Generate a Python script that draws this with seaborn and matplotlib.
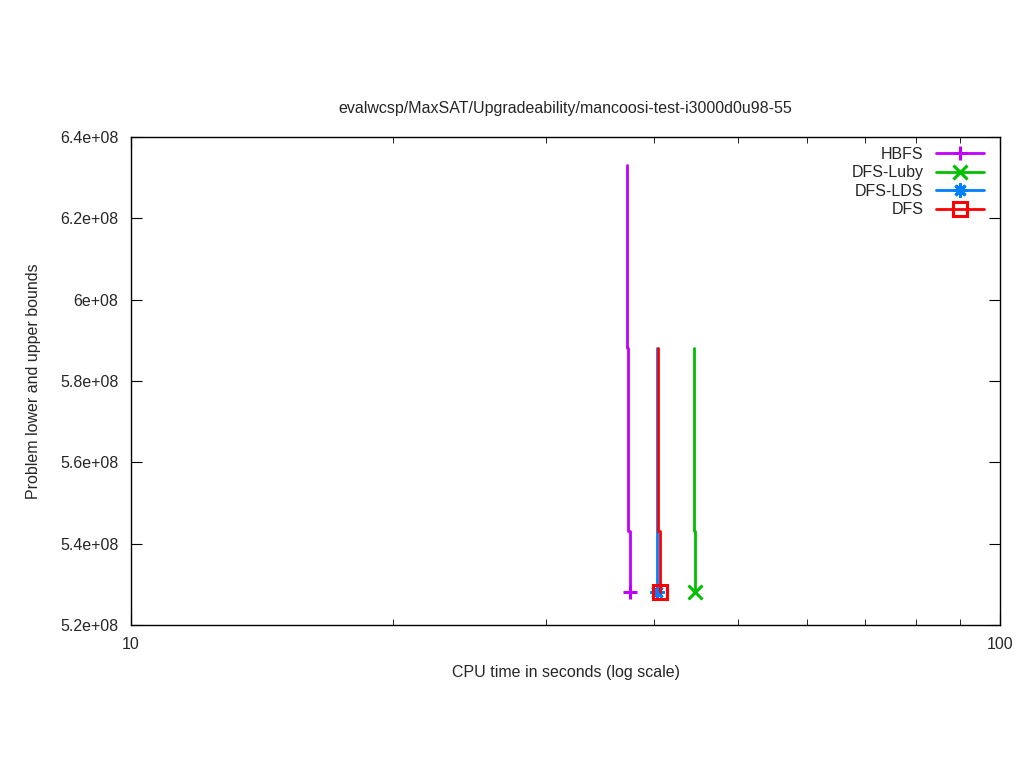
import pandas as pd
import numpy as np
import matplotlib.pyplot as plt
import seaborn as sns
from matplotlib.lines import Line2D
from matplotlib.ticker import FuncFormatter, LogLocator, NullFormatter

sns.set_style("white")
plt.rcParams['font.family'] = ['Liberation Sans', 'DejaVu Sans']

# solver traces: time (s) and bound
hbfs_t = [37.25, 37.25, 37.35, 37.5]
hbfs_y = [6.33e8, 5.88e8, 5.43e8, 5.28e8]
luby_t = [44.4, 44.4, 44.55]
luby_y = [5.88e8, 5.43e8, 5.28e8]
lds_t = [40.3, 40.3]
lds_y = [5.88e8, 5.28e8]
dfs_t = [40.45, 40.45, 40.6]
dfs_y = [5.88e8, 5.43e8, 5.28e8]

names = ["HBFS", "DFS-Luby", "DFS-LDS", "DFS"]
colors = ["#c000ff", "#00c000", "#0080ff", "#ff0000"]
markers = ["+", "x", (8, 2, 0), "s"]

series = [(hbfs_t, hbfs_y), (luby_t, luby_y), (lds_t, lds_y), (dfs_t, dfs_y)]
frames = []
for name, (t, y) in zip(names, series):
    frames.append(pd.DataFrame({"time": t, "bound": y, "solver": name}))
df = pd.concat(frames, ignore_index=True)

fig = plt.figure(figsize=(10.24, 7.68), dpi=100)
ax = fig.add_axes([0.128, 0.1862, 0.8486, 0.6354])

for name, col, mk in zip(names, colors, markers):
    d = df[df["solver"] == name]
    sns.lineplot(data=d, x="time", y="bound", ax=ax, color=col, lw=2,
                 drawstyle="steps-post", sort=False, estimator=None, legend=False)
    last = d.iloc[[-1]]
    mfc = "none" if mk == "s" else col
    ax.plot(last["time"], last["bound"], marker=mk, color=col, ms=10, mew=2.2,
            mfc=mfc, ls="none")

ax.set_xscale("log")
ax.set_xlim(10, 100)
ax.set_ylim(5.2e8, 6.4e8)
ax.set_yticks(np.arange(5.2e8, 6.41e8, 0.2e8))

def sci(v, pos):
    s = "%.1e" % v
    m, e = s.split("e")
    m = m.rstrip("0").rstrip(".")
    return "%se+%02d" % (m, int(e))

ax.yaxis.set_major_formatter(FuncFormatter(sci))
ax.xaxis.set_major_locator(LogLocator(base=10))
ax.xaxis.set_major_formatter(FuncFormatter(lambda v, p: "%d" % v))
ax.xaxis.set_minor_locator(LogLocator(base=10, subs=np.arange(2, 10)))
ax.xaxis.set_minor_formatter(NullFormatter())
ax.tick_params(which="both", direction="in", top=True, right=True, bottom=True, left=True,
               labelsize=11.5, color="black")
ax.tick_params(which="major", length=8)
ax.tick_params(which="minor", length=4)
ax.tick_params(axis="x", which="major", pad=9)
ax.tick_params(axis="y", which="major", pad=9)
for s in ax.spines.values():
    s.set_color("black")
    s.set_linewidth(1)

ax.set_title("evalwcsp/MaxSAT/Upgradeability/mancoosi-test-i3000d0u98-55", fontsize=11.5, pad=17)
ax.set_xlabel("CPU time in seconds (log scale)", fontsize=11.5, labelpad=9)
ax.set_ylabel("Problem lower and upper bounds", fontsize=11.5, labelpad=14)

handles = []
for col, mk in zip(colors, markers):
    mfc = "none" if mk == "s" else col
    handles.append(Line2D([], [], color=col, lw=2, marker=mk, ms=10, mew=2.2, mfc=mfc))
ax.legend(handles, names, loc="upper right", frameon=False, markerfirst=False,
          fontsize=11.5, handlelength=3.0, labelspacing=0.22, borderaxespad=0.2,
          handletextpad=0.8, bbox_to_anchor=(0.993, 1.0))

fig.savefig("out.png", dpi=100)
